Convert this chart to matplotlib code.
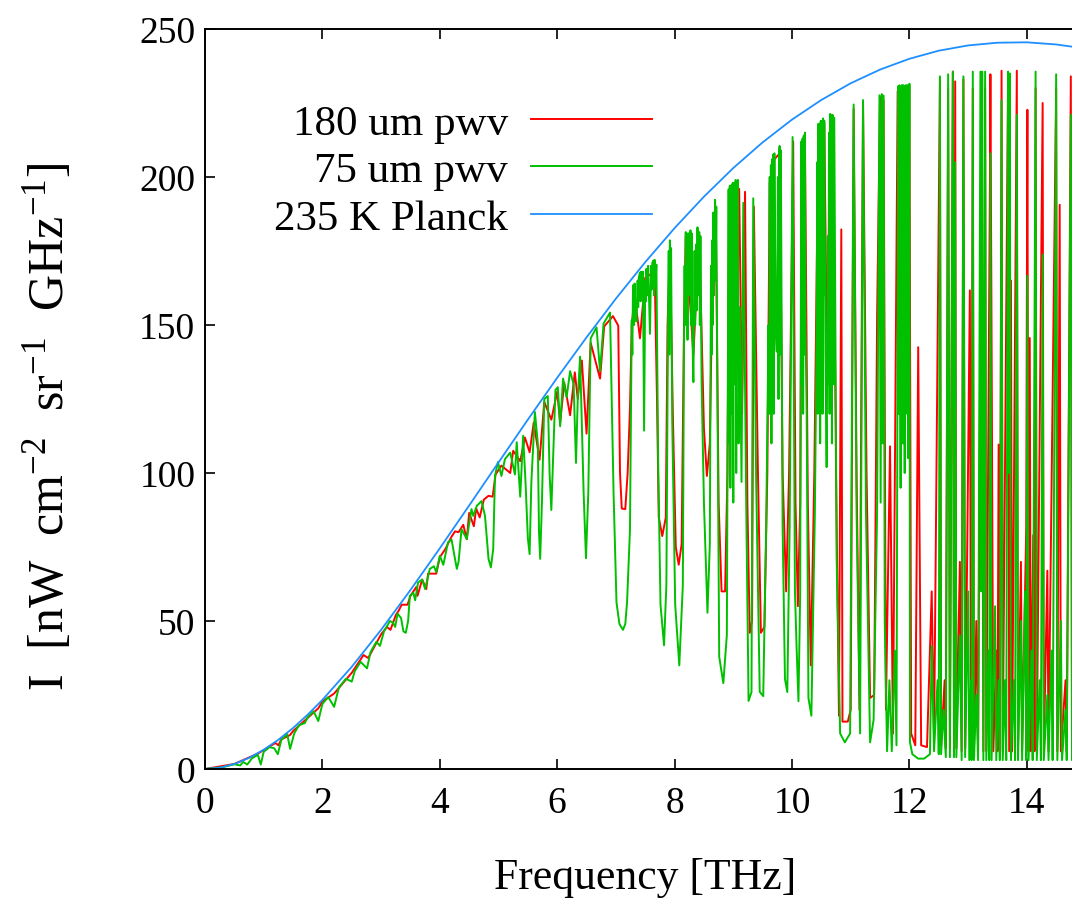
import matplotlib
matplotlib.use('Agg')
import matplotlib.pyplot as plt

# spectra: (frequency THz, intensity nW cm-2 sr-1 GHz-1)
pwv_180um = [
    (0.00, 0.0), (0.50, 1.7), (0.90, 5.2), (1.20, 8.8), (1.25, 8.0), (1.30, 10.0), (1.45, 11.5),
    (1.50, 12.8), (1.93, 20.5), (2.00, 22.8), (2.20, 25.5), (2.50, 32.5), (2.70, 38.5), (2.78, 37.5),
    (3.00, 45.5), (3.10, 48.0), (3.16, 47.0), (3.25, 52.0), (3.30, 53.5), (3.35, 55.5), (3.45, 55.5),
    (3.50, 58.5), (3.60, 61.5), (3.62, 58.5), (3.70, 64.0), (3.77, 60.8), (3.80, 66.0), (3.94, 66.0),
    (4.00, 71.5), (4.10, 74.5), (4.20, 78.5), (4.26, 80.3), (4.32, 80.0), (4.40, 82.5), (4.46, 77.6),
    (4.50, 86.5), (4.58, 82.0), (4.62, 88.0), (4.68, 85.0), (4.75, 91.0), (4.83, 92.3), (4.90, 92.0),
    (4.95, 99.5), (5.05, 102.5), (5.20, 100.0), (5.25, 107.5), (5.37, 104.0), (5.45, 112.0),
    (5.53, 107.0), (5.60, 117.0), (5.70, 104.5), (5.78, 124.0), (5.90, 118.0), (6.00, 127.5),
    (6.05, 117.0), (6.12, 130.5), (6.22, 119.5), (6.30, 134.0), (6.35, 125.0), (6.42, 138.0),
    (6.50, 113.3), (6.57, 144.0), (6.73, 131.9), (6.80, 149.5), (6.95, 153.0), (7.04, 149.8),
    (7.07, 100.0), (7.10, 88.0), (7.16, 87.8), (7.20, 100.0), (7.24, 122.0), (7.27, 150.0),
    (7.32, 160.0), (7.41, 145.5), (7.50, 166.0), (7.66, 168.0), (7.70, 125.0), (7.73, 85.0),
    (7.79, 78.7), (7.85, 85.0), (7.88, 150.0), (7.92, 176.0), (7.97, 120.0), (8.02, 75.0),
    (8.07, 69.0), (8.12, 76.0), (8.16, 150.0), (8.19, 180.0), (8.32, 140.0), (8.42, 180.0),
    (8.50, 115.0), (8.55, 99.0), (8.60, 110.0), (8.66, 185.0), (8.70, 190.0), (8.75, 90.0),
    (8.80, 60.0), (8.86, 60.0), (8.90, 100.0), (8.93, 195.0), (9.10, 196.0), (9.15, 120.0),
    (9.20, 195.0), (9.24, 90.0), (9.28, 46.0), (9.32, 50.0), (9.35, 190.0), (9.42, 100.0),
    (9.47, 46.0), (9.53, 48.0), (9.58, 100.0), (9.62, 198.0), (9.70, 206.0), (9.79, 208.0),
    (9.84, 100.0), (9.90, 60.0), (9.95, 100.0), (10.02, 212.0), (10.06, 90.0), (10.10, 55.0),
    (10.14, 90.0), (10.17, 211.0), (10.22, 214.0), (10.27, 90.0), (10.32, 35.0), (10.38, 100.0),
    (10.45, 217.0), (10.55, 218.0), (10.60, 130.0), (10.65, 220.0), (10.70, 218.0), (10.75, 100.0),
    (10.80, 18.0), (10.84, 182.3), (10.86, 16.0), (10.95, 16.0), (11.00, 20.0), (11.05, 223.0),
    (11.10, 100.0), (11.15, 20.0), (11.21, 225.0), (11.27, 100.0), (11.33, 24.0), (11.40, 25.0),
    (11.45, 153.6), (11.50, 227.0), (11.56, 226.0), (11.60, 20.0), (11.67, 109.0), (11.72, 12.0),
    (11.80, 229.0), (11.90, 230.0), (12.00, 231.0), (12.03, 12.0), (12.10, 8.0), (12.15, 142.5),
    (12.20, 8.0), (12.30, 7.4), (12.38, 60.0), (12.42, 9.0), (12.52, 233.0), (12.54, 8.0),
    (12.60, 30.0), (12.62, 7.0), (12.66, 230.0), (12.69, 7.0), (12.74, 235.6), (12.76, 7.0),
    (12.78, 232.3), (12.80, 7.0), (12.86, 70.0), (12.89, 6.0), (12.92, 233.0), (12.95, 7.0),
    (13.03, 161.7), (13.05, 6.0), (13.08, 230.0), (13.10, 6.0), (13.14, 50.0), (13.17, 6.0),
    (13.23, 230.0), (13.26, 6.0), (13.29, 230.0), (13.31, 6.0), (13.37, 192.0), (13.38, 234.7),
    (13.41, 93.5), (13.43, 6.0), (13.48, 40.0), (13.50, 6.0), (13.52, 109.6), (13.54, 6.0),
    (13.57, 235.9), (13.59, 6.0), (13.68, 230.0), (13.70, 6.0), (13.73, 165.0), (13.75, 6.0),
    (13.83, 235.9), (13.85, 6.0), (13.90, 70.0), (13.92, 6.0), (13.99, 81.4), (14.01, 222.7),
    (14.03, 6.0), (14.05, 145.6), (14.07, 6.0), (14.11, 79.0), (14.13, 6.0), (14.15, 230.0),
    (14.17, 6.0), (14.27, 225.0), (14.29, 6.0), (14.35, 67.0), (14.37, 6.0), (14.50, 230.0),
    (14.52, 6.0), (14.56, 190.6), (14.58, 6.0), (14.66, 30.0), (14.68, 6.0), (14.75, 234.0),
    (14.77, 6.0), (14.85, 12.0), (15.00, 8.0),
]

pwv_75um = [
    (0.00, 0.0), (0.30, 0.6), (0.50, 1.6), (0.60, 1.2), (0.65, 2.4), (0.72, 1.5), (0.80, 3.6),
    (0.90, 4.8), (0.95, 1.5), (1.00, 5.8), (1.10, 7.4), (1.18, 7.0), (1.24, 5.0), (1.30, 9.8),
    (1.40, 11.8), (1.45, 6.8), (1.52, 12.0), (1.60, 14.8), (1.70, 15.5), (1.75, 17.5), (1.85, 19.5),
    (1.93, 16.2), (2.00, 22.0), (2.10, 24.3), (2.20, 21.0), (2.28, 27.5), (2.40, 30.5), (2.50, 29.5),
    (2.55, 33.0), (2.65, 36.2), (2.76, 34.0), (2.82, 39.5), (2.92, 43.0), (2.98, 41.6), (3.05, 46.5),
    (3.15, 50.0), (3.20, 49.5), (3.24, 48.0), (3.28, 52.5), (3.34, 51.0), (3.38, 46.5), (3.42, 46.0),
    (3.46, 50.0), (3.49, 58.5), (3.55, 59.5), (3.58, 57.0), (3.63, 63.0), (3.70, 64.0), (3.75, 60.8),
    (3.83, 67.6), (3.90, 68.5), (3.94, 66.5), (4.00, 72.0), (4.06, 69.0), (4.14, 76.6), (4.20, 77.5),
    (4.25, 72.0), (4.29, 67.6), (4.32, 70.0), (4.37, 81.0), (4.46, 77.7), (4.54, 87.8), (4.57, 85.5),
    (4.63, 88.9), (4.71, 90.5), (4.77, 85.5), (4.83, 71.0), (4.87, 68.1), (4.91, 74.3), (4.94, 99.0),
    (4.99, 103.7), (5.05, 99.0), (5.11, 104.7), (5.20, 106.9), (5.28, 99.5), (5.31, 110.4),
    (5.37, 92.0), (5.42, 112.6), (5.46, 97.0), (5.50, 78.0), (5.53, 72.6), (5.56, 97.0),
    (5.62, 120.6), (5.67, 110.0), (5.69, 80.0), (5.71, 71.0), (5.74, 90.0), (5.78, 125.0),
    (5.84, 126.0), (5.87, 100.0), (5.90, 87.5), (5.93, 105.0), (5.97, 128.0), (6.01, 129.0),
    (6.05, 115.8), (6.10, 131.9), (6.16, 125.6), (6.22, 134.4), (6.28, 130.0), (6.32, 103.4),
    (6.35, 125.0), (6.39, 139.3), (6.45, 93.4), (6.49, 71.2), (6.53, 93.4), (6.57, 145.5),
    (6.67, 149.2), (6.73, 134.4), (6.79, 150.5), (6.90, 154.2), (6.96, 93.4), (7.01, 56.3),
    (7.06, 49.0), (7.12, 47.0), (7.16, 49.0), (7.19, 56.3), (7.24, 81.0), (7.27, 151.7),
    (7.28, 140.0), (7.29, 160.0), (7.30, 163.6), (7.31, 150.0), (7.32, 164.0), (7.33, 155.0),
    (7.35, 151.2), (7.37, 165.0), (7.38, 156.0), (7.39, 166.0), (7.41, 167.7), (7.42, 158.0),
    (7.43, 168.0), (7.45, 160.0), (7.46, 168.0), (7.48, 114.3), (7.50, 165.0), (7.51, 158.0),
    (7.52, 169.0), (7.54, 160.0), (7.55, 170.0), (7.58, 147.0), (7.60, 170.0), (7.61, 162.0),
    (7.62, 171.0), (7.64, 171.8), (7.65, 160.0), (7.66, 172.0), (7.67, 163.0), (7.69, 170.4),
    (7.72, 103.4), (7.76, 55.5), (7.82, 41.8), (7.86, 62.3), (7.89, 158.0), (7.90, 175.0),
    (7.91, 140.0), (7.92, 178.6), (7.93, 150.0), (7.94, 176.0), (7.96, 117.0), (8.01, 55.5),
    (8.08, 35.0), (8.14, 62.0), (8.16, 144.4), (8.17, 170.0), (8.18, 150.0), (8.19, 181.4),
    (8.20, 155.0), (8.21, 180.0), (8.22, 145.0), (8.23, 181.0), (8.24, 160.0), (8.26, 171.8),
    (8.27, 182.0), (8.28, 150.0), (8.29, 181.0), (8.30, 150.0), (8.32, 130.7), (8.34, 175.0),
    (8.35, 150.0), (8.37, 177.3), (8.38, 155.0), (8.39, 183.0), (8.40, 160.0), (8.42, 181.4),
    (8.43, 150.0), (8.44, 180.0), (8.46, 130.7), (8.50, 89.7), (8.56, 52.8), (8.60, 76.0),
    (8.62, 170.0), (8.63, 140.0), (8.64, 178.6), (8.65, 150.0), (8.66, 188.0), (8.67, 160.0),
    (8.69, 192.3), (8.70, 165.0), (8.71, 190.0), (8.72, 156.0), (8.76, 37.9), (8.83, 29.0),
    (8.89, 45.3), (8.91, 150.0), (8.92, 195.8), (8.93, 110.0), (8.94, 197.0), (8.95, 95.0),
    (8.97, 197.3), (8.98, 120.0), (8.99, 198.0), (9.00, 90.0), (9.01, 198.0), (9.02, 130.0),
    (9.04, 199.0), (9.05, 100.0), (9.06, 198.7), (9.07, 140.0), (9.08, 199.0), (9.09, 110.0),
    (9.11, 156.0), (9.14, 97.0), (9.17, 191.3), (9.22, 89.5), (9.26, 23.0), (9.31, 26.0),
    (9.34, 192.8), (9.39, 97.0), (9.45, 26.1), (9.51, 24.6), (9.56, 82.0), (9.60, 150.0),
    (9.61, 120.0), (9.62, 200.0), (9.63, 130.0), (9.64, 204.0), (9.65, 110.0), (9.66, 206.0),
    (9.67, 140.0), (9.68, 207.6), (9.69, 120.0), (9.70, 208.0), (9.72, 150.0), (9.74, 141.0),
    (9.76, 200.0), (9.77, 125.0), (9.78, 209.0), (9.79, 210.5), (9.80, 140.0), (9.81, 209.0),
    (9.84, 82.0), (9.88, 30.4), (9.92, 26.0), (9.96, 82.0), (10.01, 213.5), (10.05, 60.0),
    (10.08, 40.0), (10.11, 22.9), (10.14, 60.0), (10.15, 150.0), (10.16, 212.0), (10.17, 130.0),
    (10.18, 213.0), (10.19, 120.0), (10.20, 214.0), (10.21, 140.0), (10.22, 215.0), (10.23, 150.0),
    (10.25, 120.0), (10.28, 24.0), (10.33, 18.0), (10.39, 87.0), (10.42, 150.0), (10.43, 205.0),
    (10.44, 120.0), (10.45, 218.0), (10.46, 140.0), (10.47, 218.0), (10.48, 110.0), (10.49, 219.0),
    (10.50, 150.0), (10.51, 219.0), (10.52, 120.0), (10.53, 219.8), (10.54, 160.0), (10.55, 219.0),
    (10.57, 140.0), (10.59, 102.0), (10.61, 180.0), (10.62, 130.0), (10.63, 215.0), (10.64, 120.0),
    (10.65, 221.3), (10.66, 150.0), (10.67, 221.0), (10.68, 110.0), (10.69, 221.0), (10.70, 219.8),
    (10.71, 130.0), (10.72, 220.0), (10.76, 71.4), (10.82, 12.0), (10.90, 9.0), (10.99, 12.0),
    (11.05, 224.5), (11.10, 87.0), (11.16, 12.0), (11.21, 226.0), (11.26, 87.0), (11.33, 9.0),
    (11.39, 16.6), (11.45, 87.0), (11.49, 227.6), (11.51, 90.0), (11.53, 228.0), (11.54, 110.0),
    (11.56, 227.5), (11.58, 49.4), (11.62, 6.0), (11.66, 30.0), (11.70, 6.0), (11.75, 40.0),
    (11.78, 8.0), (11.81, 230.7), (11.82, 120.0), (11.83, 231.0), (11.85, 95.0), (11.86, 200.0),
    (11.87, 231.0), (11.88, 231.0), (11.89, 110.0), (11.90, 231.0), (11.92, 100.0), (11.93, 220.0),
    (11.94, 231.0), (11.95, 231.0), (11.96, 120.0), (11.97, 231.0), (11.98, 105.0), (12.00, 231.5),
    (12.01, 9.0), (12.05, 5.0), (12.15, 3.5), (12.25, 3.5), (12.35, 5.0), (12.38, 41.6),
    (12.42, 6.0), (12.48, 30.0), (12.50, 5.0), (12.52, 234.0), (12.54, 5.0), (12.58, 20.0),
    (12.62, 4.0), (12.66, 234.7), (12.69, 4.0), (12.74, 235.6), (12.76, 4.0), (12.78, 205.0),
    (12.80, 4.0), (12.86, 45.0), (12.89, 3.0), (12.92, 234.0), (12.95, 4.0), (13.00, 60.0),
    (13.02, 3.0), (13.05, 30.0), (13.06, 3.0), (13.08, 235.6), (13.10, 3.0), (13.14, 25.0),
    (13.17, 3.0), (13.21, 235.6), (13.225, 60.0), (13.24, 235.6), (13.26, 3.0), (13.29, 235.6),
    (13.31, 3.0), (13.35, 40.0), (13.36, 3.0), (13.38, 208.0), (13.40, 3.0), (13.46, 55.0),
    (13.48, 3.0), (13.52, 30.0), (13.54, 3.0), (13.57, 226.0), (13.59, 3.0), (13.63, 30.0),
    (13.65, 3.0), (13.68, 235.6), (13.695, 100.0), (13.71, 235.0), (13.73, 3.0), (13.78, 30.0),
    (13.80, 3.0), (13.83, 221.0), (13.85, 3.0), (13.90, 50.0), (13.92, 3.0), (13.97, 60.0),
    (13.99, 3.0), (14.01, 166.6), (14.03, 3.0), (14.08, 40.0), (14.10, 3.0), (14.15, 235.6),
    (14.17, 3.0), (14.22, 30.0), (14.24, 3.0), (14.27, 173.8), (14.29, 3.0), (14.35, 25.0),
    (14.37, 3.0), (14.42, 40.0), (14.44, 3.0), (14.50, 234.7), (14.52, 3.0), (14.58, 50.0),
    (14.60, 3.0), (14.66, 20.0), (14.68, 3.0), (14.75, 221.0), (14.77, 3.0), (14.85, 10.0),
    (15.00, 5.0),
]

planck_freq = [0.0, 0.25, 0.5, 0.75, 1.0, 1.25, 1.5, 1.75, 2.0, 2.5, 3.0, 3.5, 4.0, 4.5, 5.0, 5.5,
               6.0, 6.5, 7.0, 7.5, 8.0, 8.5, 9.0, 9.5, 10.0, 10.5, 11.0, 11.5, 12.0, 12.5, 13.0,
               13.5, 14.0, 14.5, 15.0]
planck_235K = [0.0, 0.44, 1.71, 3.75, 6.50, 9.88, 13.86, 18.36, 23.35, 34.53, 47.02, 60.47, 74.56,
               89.02, 103.57, 118.03, 132.18, 145.83, 158.91, 171.24, 182.75, 193.35, 203.04,
               211.71, 219.39, 226.03, 231.67, 236.29, 239.94, 242.67, 244.45, 245.37, 245.50,
               244.78, 243.40]

labels = ['180 um pwv', '75 um pwv', '235 K Planck']
colors = ['#ff0000', '#00c000', '#1e8fff']

plt.rcParams['font.family'] = 'Liberation Serif'
plt.rcParams['mathtext.fontset'] = 'custom'
plt.rcParams['mathtext.rm'] = 'Liberation Serif'
plt.rcParams['mathtext.it'] = 'Liberation Serif:italic'

fig = plt.figure(figsize=(10.72, 9.03), dpi=100)
# axes run past the right edge of the canvas, as in the cropped original
ax = fig.add_axes([205 / 1072, 133 / 903, 880.5 / 1072, 740 / 903])

ax.plot([p[0] for p in pwv_180um], [p[1] for p in pwv_180um], color=colors[0], lw=1.4, label=labels[0])
ax.plot([p[0] for p in pwv_75um], [p[1] for p in pwv_75um], color=colors[1], lw=1.4, label=labels[1])
ax.plot(planck_freq, planck_235K, color=colors[2], lw=1.3, label=labels[2])

ax.set_xlim(0, 15)
ax.set_ylim(0, 250)
ax.set_xticks(range(0, 15, 2))
ax.set_yticks(range(0, 251, 50))
ax.spines['right'].set_visible(False)
for s in ['left', 'bottom', 'top']:
    ax.spines[s].set_linewidth(1.4)
ax.tick_params(direction='in', length=7.5, width=1.2, top=True, right=False, labelsize=27)
ax.tick_params(axis='x', pad=12)
ax.tick_params(axis='y', pad=7)

ax.set_xlabel('Frequency [THz]', fontsize=31.5)
ax.xaxis.label.set_va('center')
ax.xaxis.set_label_coords(0.5, -0.146)
ax.set_ylabel(r'I  [nW  cm$^{-2}$  sr$^{-1}$  GHz$^{-1}$]', fontsize=36)
ax.yaxis.label.set_va('center')
ax.yaxis.set_label_coords(-0.178, 0.4635)

# markerfirst=False right-aligns the rows, so text ends where the sample line starts
ax.legend(loc='upper right', bbox_to_anchor=(0.5077, 0.8993), frameon=False, markerfirst=False,
          fontsize=31, handlelength=2.8, handletextpad=0.55, labelspacing=0.2,
          borderpad=0, borderaxespad=0)

plt.savefig('out.png', dpi=100)
plt.close()
